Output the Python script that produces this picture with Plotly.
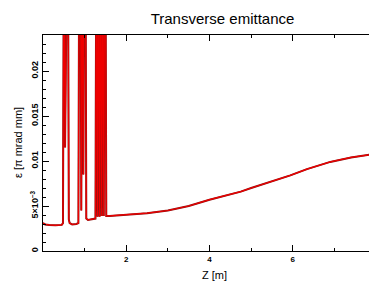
import plotly.graph_objects as go

# Data
z = [0.00, 0.05, 0.15, 0.30, 0.45, 0.48,
     0.50, 0.53, 0.55, 0.58, 0.60, 0.62, 0.64, 0.70, 0.80, 0.85,
     0.87, 0.90, 0.92, 0.94, 0.97, 0.99, 1.02, 1.04, 1.08, 1.20, 1.26,
     1.28, 1.31, 1.33, 1.36, 1.38, 1.41, 1.43, 1.46, 1.48, 1.50, 1.52, 1.60,
     2.0, 2.5, 3.0, 3.5, 4.0, 4.5, 4.75, 5.0, 5.2, 5.45, 5.7, 5.94, 6.34, 6.9, 7.4, 7.85]
eps = [0.0031, 0.00295, 0.0029, 0.00285, 0.0029, 0.0031,
       0.035, 0.0115, 0.035, 0.035, 0.035, 0.0035, 0.0031, 0.00295, 0.0030, 0.0031,
       0.035, 0.035, 0.0045, 0.035, 0.0085, 0.035, 0.035, 0.0036, 0.00345, 0.0035, 0.0036,
       0.035, 0.0038, 0.035, 0.0038, 0.035, 0.0039, 0.035, 0.0039, 0.035, 0.035, 0.0039, 0.0039,
       0.0040, 0.0042, 0.0045, 0.0050, 0.0057, 0.0063, 0.0066, 0.0070, 0.0073, 0.0076,
       0.0080, 0.0084, 0.0091, 0.0099, 0.0104, 0.0107]

x_tickvals = [2, 4, 6]
y_tickvals = [0, 0.005, 0.01, 0.015, 0.02]
y_ticktext = ["0", "5×10<sup>−3</sup>", "0.01", "0.015", "0.02"]

FONT = "Liberation Sans, Arial, sans-serif"

fig = go.Figure()
fig.add_trace(go.Scatter(x=z, y=eps, mode="lines",
                         line=dict(color="#8b1010", width=2.0), hoverinfo="skip"))
fig.add_trace(go.Scatter(x=z, y=eps, mode="lines",
                         line=dict(color="#ee0000", width=1.2)))

axis_font = dict(family=FONT, size=8, color="black", weight="bold")
yaxis_font = dict(family=FONT, size=9, color="black", weight="bold")

fig.update_layout(
    width=369, height=282,
    margin=dict(l=43, r=0, t=35, b=31),
    paper_bgcolor="white", plot_bgcolor="white",
    showlegend=False,
    title=dict(text="Transverse emittance", x=0.603, xanchor="center", y=0.935, yanchor="middle",
               font=dict(family=FONT, size=15, color="black")),
    xaxis=dict(range=[0, 7.83], tickvals=x_tickvals, ticks="inside", ticklen=6, tickwidth=1,
               tickcolor="black", showline=True, linecolor="black", linewidth=1.2,
               mirror="ticks", showgrid=False, zeroline=False, tickfont=axis_font,
               automargin=False,
               minor=dict(dtick=1, tick0=0, ticks="inside", ticklen=3, tickcolor="black", showgrid=False)),
    yaxis=dict(range=[0, 0.024], tickvals=y_tickvals, ticktext=y_ticktext, tickangle=-90,
               ticks="inside", ticklen=6, tickwidth=1, tickcolor="black",
               showline=True, linecolor="black", linewidth=1.2, showgrid=False, zeroline=False,
               tickfont=yaxis_font, automargin=False,
               minor=dict(dtick=0.001, tick0=0, ticks="inside", ticklen=3, tickcolor="black", showgrid=False)),
    annotations=[
        dict(text="Z [m]", xref="paper", yref="paper", x=(215 - 43) / 326, y=-(275 - 251) / 216,
             xanchor="center", yanchor="middle", showarrow=False,
             font=dict(family=FONT, size=11, color="black")),
        dict(text="ε [π mrad mm]", xref="paper", yref="paper", x=-(43 - 18) / 326, y=0.5,
             xanchor="center", yanchor="middle", textangle=-90, showarrow=False,
             font=dict(family=FONT, size=11, color="black")),
    ],
)

fig.write_html("out.html", config={"displayModeBar": False},
               post_script="document.body.style.margin='0';document.body.style.overflow='hidden';")
